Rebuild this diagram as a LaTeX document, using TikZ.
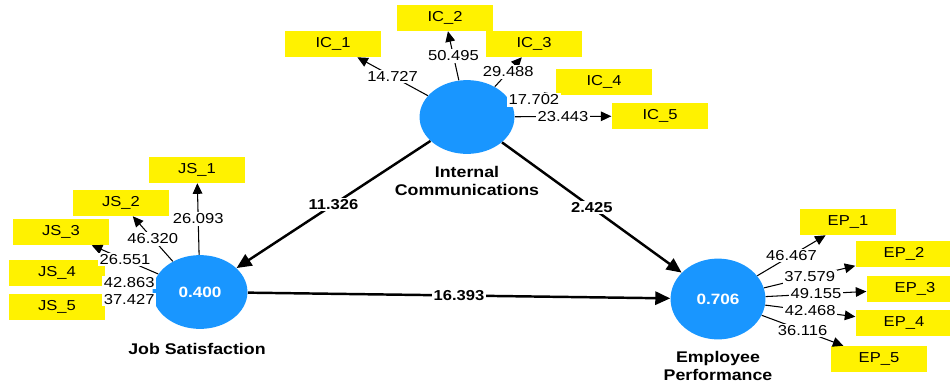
\documentclass[tikz,border=0pt]{standalone}
\usepackage{fontspec}
\setmainfont{Liberation Sans}[FakeStretch=1.15]
\usetikzlibrary{shapes.geometric, arrows.meta}

\definecolor{lvblue}{RGB}{25,150,255}

\tikzset{
    lv/.style={ellipse, fill=lvblue, draw=none, inner sep=0pt,
        minimum width=54pt, minimum height=42pt,
        text=white, font=\fontsize{8.5}{10}\selectfont\bfseries},
    ind/.style={rectangle, fill=yellow, inner sep=0pt,
        minimum width=55pt, minimum height=14.7pt,
        font=\fontsize{8.2}{10}\selectfont},
    loadline/.style={-{Triangle[length=6pt, width=5.5pt]}, line width=0.6pt},
    pathline/.style={-{Triangle[length=8.5pt, width=7.5pt]}, line width=1.4pt},
    lbl/.style={fill=white, inner sep=1pt, font=\fontsize{8.2}{10}\selectfont},
    plbl/.style={fill=white, inner sep=1pt, font=\fontsize{8.2}{10}\selectfont\bfseries},
    lvname/.style={align=center, font=\fontsize{8.8}{10.2}\selectfont\bfseries}
}

\begin{document}
\begin{tikzpicture}[x=0.02cm, y=-0.02cm]

    \useasboundingbox (0,0) rectangle (950,382);

    % Latent variables
    \node[lv] (ic) at (467,117) {};
    \node[lv] (js) at (200,292) {0.400};
    \node[lv, minimum height=46pt] (ep) at (718,299) {0.706};

    \node[lvname] (icname) at (467,181) {Internal\\Communications};
    \node[lvname] (jsname) at (197,349) {Job Satisfaction};
    \node[lvname] (epname) at (718,366) {Employee\\Performance};

    % Indicators
    \foreach \i/\xy in {1/{333,44}, 2/{445,18}, 3/{534,44}, 4/{604,82}, 5/{660,116}}
        \node[ind] (ic\i) at (\xy) {IC\_\i};
    \foreach \i/\xy in {1/{197,170}, 2/{121,203}, 3/{61,232}, 4/{57,273}, 5/{57,307}}
        \node[ind] (js\i) at (\xy) {JS\_\i};
    \foreach \i/\xy in {1/{848,222}, 2/{904,254}, 3/{915,289}, 4/{904,323}, 5/{879,359}}
        \node[ind] (ep\i) at (\xy) {EP\_\i};

    % Outer loadings
    \foreach \i/\v in {1/14.727, 2/50.495, 3/29.488, 4/17.702, 5/23.443}
        \draw[loadline] (ic) -- (ic\i) node[midway, lbl] {\v};
    \foreach \i/\v in {1/26.093, 2/46.320, 3/26.551, 4/42.863, 5/37.427}
        \draw[loadline] (js) -- (js\i) node[midway, lbl] {\v};
    \foreach \i/\v in {1/46.467, 2/37.579, 3/49.155, 4/42.468, 5/36.116}
        \draw[loadline] (ep) -- (ep\i) node[midway, lbl] {\v};

    % Path coefficients
    \draw[pathline] (ic) -- (js) node[midway, plbl] {11.326};
    \draw[pathline] (ic) -- (ep) node[midway, plbl] {2.425};
    \draw[pathline] (js) -- (ep) node[midway, plbl] {16.393};

\end{tikzpicture}
\end{document}
